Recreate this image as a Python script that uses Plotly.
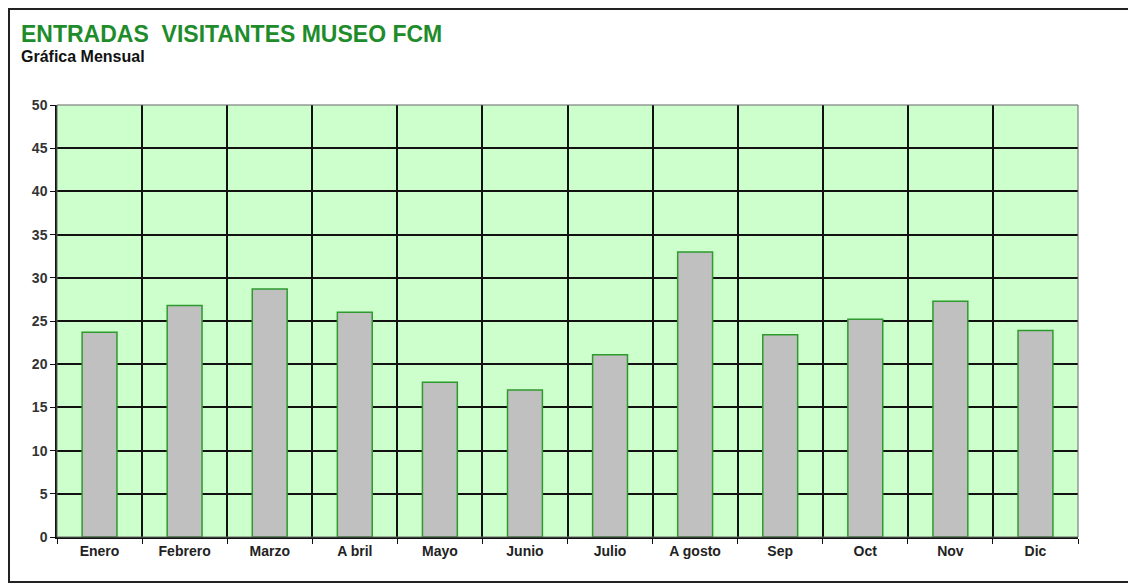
import plotly.graph_objects as go

months = ["Enero", "Febrero", "Marzo", "A bril", "Mayo", "Junio", "Julio",
          "A gosto", "Sep", "Oct", "Nov", "Dic"]
visitors = [23.7, 26.8, 28.7, 26.0, 17.9, 17.0, 21.1, 33.0, 23.4, 25.2, 27.3, 23.9]
y_ticks = [0, 5, 10, 15, 20, 25, 30, 35, 40, 45, 50]

OFF = 8  # page body margin
W, H = 1136 - OFF, 585 - OFF
L, T = 57 - OFF, 105 - OFF
R = W - (1078 - OFF)
B = H - (537 - OFF)
pw, ph = W - L - R, H - T - B

def px_x(p):
    return (p - OFF - L) / pw

def px_y(p):
    return (H - B - (p - OFF)) / ph

FONT = "Liberation Sans, Arial, sans-serif"

fig = go.Figure()
fig.add_trace(go.Bar(
    x=months, y=visitors, width=0.41,
    marker=dict(color="#C0C0C0", line=dict(color="#2E9A2E", width=1.5)),
))

fig.update_layout(
    width=W, height=H,
    margin=dict(l=L, r=R, t=T, b=B),
    paper_bgcolor="white",
    plot_bgcolor="#CCFFCC",
    showlegend=False,
    font=dict(family=FONT, color="#222222"),
    xaxis=dict(
        type="category", range=[-0.5, 11.5], tickson="boundaries",
        showgrid=True, gridcolor="#111111", gridwidth=1.5,
        ticks="outside", ticklen=5, tickcolor="#111111",
        showline=True, linecolor="#111111", linewidth=1.5,
        tickfont=dict(size=14, color="#222222", family=FONT, weight="bold"),
        zeroline=False,
    ),
    yaxis=dict(
        range=[0, 50], tickvals=y_ticks,
        showgrid=True, gridcolor="#111111", gridwidth=1.5,
        ticks="outside", ticklen=5, tickcolor="#111111",
        showline=True, linecolor="#111111", linewidth=1.5,
        tickfont=dict(size=14, color="#333333", family=FONT, weight="bold"),
        zeroline=False,
    ),
    bargap=0.59,
)

# plot area border (top/right)
fig.add_shape(type="rect", xref="paper", yref="paper", x0=0, x1=1, y0=0, y1=1,
              line=dict(color="#666666", width=1), layer="above")

# outer chart frame
fig.add_shape(type="rect", xref="paper", yref="paper",
              x0=px_x(9), x1=px_x(1140), y0=px_y(582), y1=px_y(9),
              line=dict(color="#222222", width=2))

fig.add_annotation(text="ENTRADAS  VISITANTES MUSEO FCM", xref="paper", yref="paper",
                   x=px_x(19), y=px_y(34), xanchor="left", yanchor="middle", showarrow=False,
                   font=dict(size=23, color="#1E8C2A", family=FONT, weight="bold"))
fig.add_annotation(text="Gráfica Mensual", xref="paper", yref="paper",
                   x=px_x(19), y=px_y(56), xanchor="left", yanchor="middle", showarrow=False,
                   font=dict(size=16, color="#111111", family=FONT, weight="bold"))

fig.write_html("out.html")
